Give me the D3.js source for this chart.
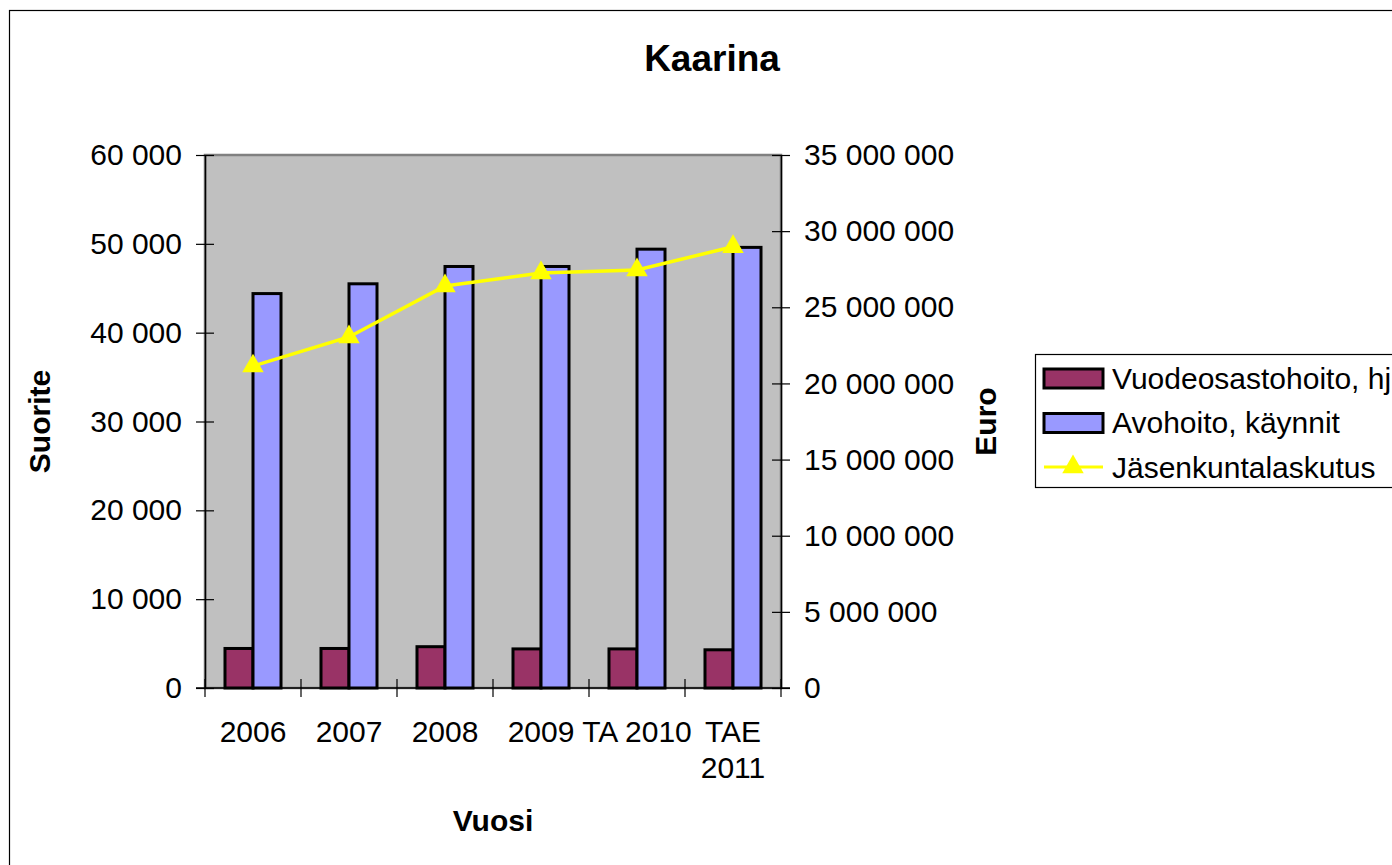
<!DOCTYPE html>
<html>
  <head>
    <meta charset="utf-8">
    <title>Kaarina</title>
    <script src="https://cdn.jsdelivr.net/npm/d3@7"></script>
    <style>
      body { margin: 0; background: #fff; }
      svg { display: block; font-family: Arial, "Liberation Sans", sans-serif; }
      .tick text, .catLabel, .legendText { font-size: 30px; fill: #000; }
      .axisTitle { font-size: 30px; font-weight: bold; }
    </style>
  </head>
  <body>
    <svg id="chart" width="1392" height="865"></svg>
    <script>
      // data
      categories = ["2006", "2007", "2008", "2009", "TA 2010", "TAE 2011"];
      seriesNames = ["Vuodeosastohoito, hj", "Avohoito, käynnit", "Jäsenkuntalaskutus"];
      vuodeosasto = [4450, 4450, 4650, 4400, 4400, 4300];
      avohoito = [44400, 45500, 47450, 47450, 49400, 49600];
      laskutus = [21140000, 23050000, 26400000, 27250000, 27450000, 28980000];
      leftTicks = [0, 10000, 20000, 30000, 40000, 50000, 60000];
      rightTicks = [0, 5000000, 10000000, 15000000, 20000000, 25000000, 30000000, 35000000];
      barColors = ["#993366", "#9999FF"];
      lineColor = "#FFFF00";

      svg = d3.select("#chart");
      plot = { left: 205, right: 781, top: 155, bottom: 688 };

      // number format with spaces as thousands separator
      fmt = d3.formatLocale({ decimal: ",", thousands: "\u00a0", grouping: [3], currency: ["", "€"] }).format(",d");

      // chart area border
      svg.append("rect")
        .attr("x", 9.5).attr("y", 10.5)
        .attr("width", 1500).attr("height", 1000)
        .attr("fill", "#fff").attr("stroke", "#000").attr("stroke-width", 1.2);

      // title
      svg.append("text")
        .attr("x", 712).attr("y", 71)
        .attr("text-anchor", "middle")
        .style("font-size", "37px").style("font-weight", "bold")
        .text("Kaarina");

      // scales
      x0 = d3.scaleBand().domain(categories).range([plot.left, plot.right]).paddingInner(0).paddingOuter(0);
      x1 = d3.scaleBand().domain([0, 1]).range([0, x0.bandwidth()]).paddingInner(0).paddingOuter(0.714);
      yLeft = d3.scaleLinear().domain([0, 60000]).range([plot.bottom, plot.top]);
      yRight = d3.scaleLinear().domain([0, 35000000]).range([plot.bottom, plot.top]);

      // plot area
      svg.append("rect")
        .attr("x", plot.left).attr("y", plot.top)
        .attr("width", plot.right - plot.left).attr("height", plot.bottom - plot.top)
        .attr("fill", "#C0C0C0").attr("stroke", "#808080").attr("stroke-width", 2.5);

      // bars
      barData = [];
      categories.forEach(function(c, i) {
        barData.push({ cat: c, s: 0, v: vuodeosasto[i] });
        barData.push({ cat: c, s: 1, v: avohoito[i] });
      });
      svg.append("g").selectAll("rect")
        .data(barData)
        .enter().append("rect")
          .attr("x", function(d) { return x0(d.cat) + x1(d.s); })
          .attr("y", function(d) { return yLeft(d.v); })
          .attr("width", x1.bandwidth())
          .attr("height", function(d) { return plot.bottom - yLeft(d.v); })
          .attr("fill", function(d) { return barColors[d.s]; })
          .attr("stroke", "#000").attr("stroke-width", 3);

      // axes
      leftAxis = svg.append("g")
        .attr("transform", "translate(" + plot.left + ",0)")
        .call(d3.axisLeft(yLeft).tickValues(leftTicks).tickFormat(fmt).tickSizeInner(9).tickSizeOuter(0).tickPadding(14));
      rightAxis = svg.append("g")
        .attr("transform", "translate(" + plot.right + ",0)")
        .call(d3.axisRight(yRight).tickValues(rightTicks).tickFormat(fmt).tickSizeInner(9).tickSizeOuter(0).tickPadding(14));
      // ticks cross the axis line
      leftAxis.selectAll(".tick line").attr("x1", 9);
      rightAxis.selectAll(".tick line").attr("x1", -9);
      svg.selectAll(".domain").attr("stroke", "#000").attr("stroke-width", 1.5);
      svg.selectAll(".tick line").attr("stroke", "#000").attr("stroke-width", 1.2);
      svg.selectAll(".tick text").attr("font-family", null).attr("font-size", null);

      // category axis
      svg.append("line")
        .attr("x1", plot.left - 9).attr("x2", plot.right + 9)
        .attr("y1", plot.bottom).attr("y2", plot.bottom)
        .attr("stroke", "#000").attr("stroke-width", 1.5);
      svg.append("g").selectAll("line")
        .data(d3.range(categories.length + 1))
        .enter().append("line")
          .attr("x1", function(i) { return plot.left + i * x0.step(); })
          .attr("x2", function(i) { return plot.left + i * x0.step(); })
          .attr("y1", plot.bottom - 9).attr("y2", plot.bottom + 9)
          .attr("stroke", "#000").attr("stroke-width", 1.2);
      catLabels = svg.append("g").selectAll("text")
        .data(categories)
        .enter().append("text")
          .classed("catLabel", true)
          .attr("text-anchor", "middle")
          .attr("x", function(d) { return x0(d) + x0.bandwidth() / 2; })
          .attr("y", 742)
          .text(function(d) { return d; });
      // wrap labels that are too wide for their slot
      catLabels.each(function(d) {
        let t = d3.select(this);
        if (this.getComputedTextLength() > 122) {
          let words = d.split(" ");
          let cx = t.attr("x");
          t.text(null);
          words.forEach(function(w, k) {
            t.append("tspan").attr("x", cx).attr("dy", k === 0 ? 0 : 36).text(w);
          });
        }
      });

      // line series
      line = d3.line()
        .x(function(d, i) { return x0(categories[i]) + x0.bandwidth() / 2; })
        .y(function(d) { return yRight(d); });
      svg.append("path")
        .datum(laskutus)
        .attr("d", line)
        .attr("fill", "none").attr("stroke", lineColor).attr("stroke-width", 3.5);
      triangle = d3.symbol().type(d3.symbolTriangle).size(200);
      svg.append("g").selectAll("path")
        .data(laskutus)
        .enter().append("path")
          .attr("d", triangle)
          .attr("transform", function(d, i) {
            return "translate(" + (x0(categories[i]) + x0.bandwidth() / 2) + "," + yRight(d) + ")";
          })
          .attr("fill", lineColor);

      // axis titles
      svg.append("text").classed("axisTitle", true)
        .attr("transform", "translate(50," + ((plot.top + plot.bottom) / 2) + ") rotate(-90)")
        .attr("text-anchor", "middle")
        .text("Suorite");
      svg.append("text").classed("axisTitle", true)
        .attr("transform", "translate(996," + ((plot.top + plot.bottom) / 2) + ") rotate(-90)")
        .attr("text-anchor", "middle")
        .text("Euro");
      svg.append("text").classed("axisTitle", true)
        .attr("x", (plot.left + plot.right) / 2).attr("y", 831)
        .attr("text-anchor", "middle")
        .text("Vuosi");

      // legend
      legend = svg.append("g").attr("transform", "translate(1035,354)");
      legend.append("rect")
        .attr("x", 0.5).attr("y", 0.5).attr("width", 420).attr("height", 133)
        .attr("fill", "#fff").attr("stroke", "#000").attr("stroke-width", 1.2);
      rows = legend.selectAll(".row")
        .data(seriesNames)
        .enter().append("g")
          .classed("row", true)
          .attr("transform", function(d, i) { return "translate(0," + (24 + i * 44.5) + ")"; });
      rows.filter(function(d, i) { return i < 2; })
        .append("rect")
          .attr("x", 9).attr("y", -9).attr("width", 59).attr("height", 19)
          .attr("fill", function(d, i) { return barColors[i]; })
          .attr("stroke", "#000").attr("stroke-width", 3);
      lastRow = rows.filter(function(d, i) { return i === 2; });
      lastRow.append("line")
        .attr("x1", 9).attr("x2", 68).attr("y1", 0).attr("y2", 0)
        .attr("stroke", lineColor).attr("stroke-width", 3);
      lastRow.append("path")
        .attr("d", triangle)
        .attr("transform", "translate(38,0)")
        .attr("fill", lineColor);
      rows.append("text")
        .classed("legendText", true)
        .attr("x", 77).attr("dy", "0.36em")
        .text(function(d) { return d; });
    </script>
  </body>
</html>
